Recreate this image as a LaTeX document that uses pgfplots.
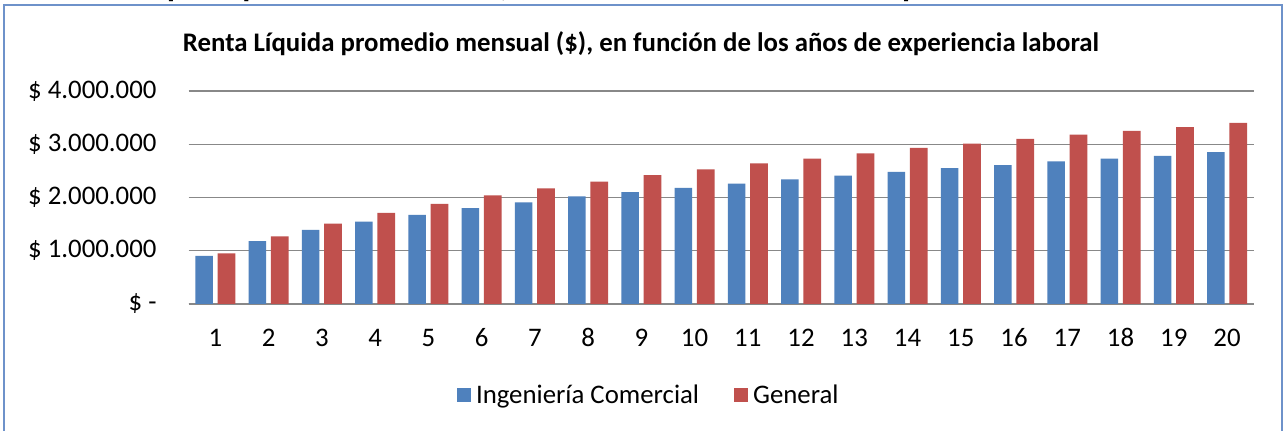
\documentclass[border=0pt]{standalone}
\usepackage{pgfplots}
\pgfplotsset{compat=1.18}
\usepackage{fontspec}
\setmainfont{Carlito}
\definecolor{barblue}{HTML}{4F81BD}
\definecolor{barred}{HTML}{C0504D}
\definecolor{gridgray}{HTML}{888888}
\definecolor{frameblue}{HTML}{6E92CA}
\begin{document}
\begin{tikzpicture}[x=1pt,y=1pt]
\useasboundingbox (0,0) rectangle (1286,431);
\node[anchor=base west, inner sep=0pt, font=\fontsize{33}{36}\selectfont\bfseries] at (48,434) {Renta Líquida promedio mensual, en función de los años de experiencia};
\fill[white] (0,0) rectangle (1286,426);
\draw[frameblue, line width=2pt] (4,-20) rectangle (1282,426);
\node[font=\fontsize{26.8}{30}\selectfont\bfseries] at (641,387) {Renta Líquida promedio mensual (\$), en función de los años de experiencia laboral};
\begin{axis}[
  at={(188.7pt,127pt)}, anchor=south west,
  width=1065pt, height=213pt, scale only axis,
  xmin=0.5, xmax=20.5, ymin=0, ymax=4000000,
  ybar=4.7pt, bar width=17.7pt,
  xtick={1,...,20},
  ytick={0,1000000,2000000,3000000,4000000},
  yticklabels={\$ -\hspace{12pt},\$ 1.000.000,\$ 2.000.000,\$ 3.000.000,\$ 4.000.000},
  scaled y ticks=false,
  /pgf/number format/assume math mode=true,
  ymajorgrids, grid style={gridgray, line width=1.3pt},
  axis lines*=left,
  y axis line style={draw=none},
  x axis line style={gridgray, line width=1.3pt},
  major tick length=0pt,
  tick style={draw=none},
  yticklabel style={font=\fontsize{26.8}{30}\selectfont, anchor=east, inner sep=0pt, xshift=-32pt},
  xticklabel style={font=\fontsize{26.8}{30}\selectfont, anchor=base, inner sep=0pt, yshift=-43pt},
  legend style={at={(0.432,-0.427)}, anchor=center, draw=none, fill=none,
    font=\fontsize{26.8}{30}\selectfont, legend columns=2,
    /tikz/every odd column/.append style={column sep=3pt},
    /tikz/every even column/.append style={column sep=33pt}},
  legend image code/.code={\fill[#1] (0pt,-7pt) rectangle (14pt,7pt);},
]
\addplot[fill=barblue, draw=none] coordinates {
(1,906000) (2,1180000) (3,1390000) (4,1545000) (5,1675000)
(6,1800000) (7,1910000) (8,2020000) (9,2100000) (10,2180000)
(11,2260000) (12,2340000) (13,2410000) (14,2480000) (15,2550000)
(16,2610000) (17,2680000) (18,2730000) (19,2780000) (20,2850000)};
\addplot[fill=barred, draw=none] coordinates {
(1,950000) (2,1270000) (3,1510000) (4,1710000) (5,1880000)
(6,2040000) (7,2170000) (8,2300000) (9,2420000) (10,2530000)
(11,2640000) (12,2730000) (13,2830000) (14,2930000) (15,3010000)
(16,3100000) (17,3180000) (18,3250000) (19,3320000) (20,3400000)};
\legend{Ingeniería Comercial, General}
\end{axis}
\end{tikzpicture}
\end{document}
